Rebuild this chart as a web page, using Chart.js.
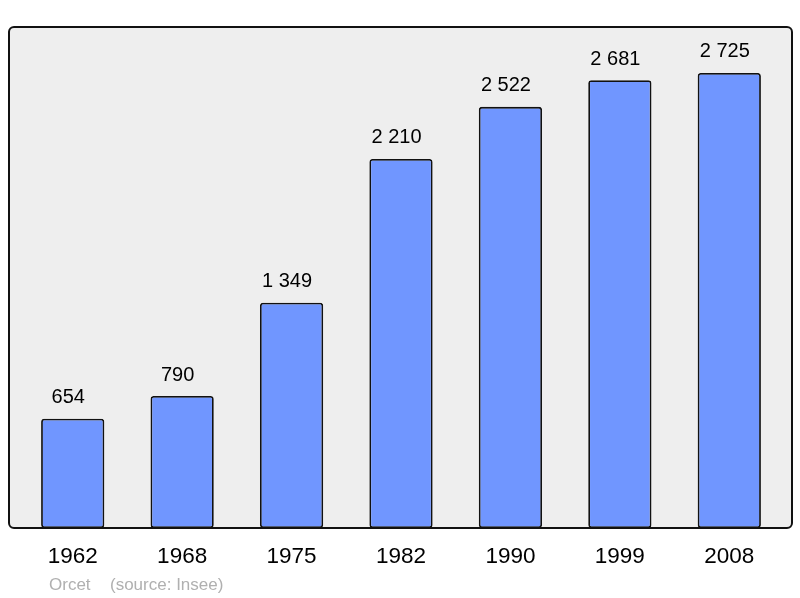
<!DOCTYPE html>
<html>
<head>
<meta charset="utf-8">
<script src="https://cdn.jsdelivr.net/npm/chart.js@4"></script>
<style>
  html, body { margin: 0; padding: 0; background: #fff; }
  #wrap { width: 800px; height: 598px; }
</style>
</head>
<body>
<div id="wrap"><canvas id="chart"></canvas></div>
<script>
const years = ["1962", "1968", "1975", "1982", "1990", "1999", "2008"];
const population = [654, 790, 1349, 2210, 2522, 2681, 2725];
const footerText = ["Orcet", "(source: Insee)"];

const fmt = (v) => String(v).replace(/\B(?=(\d{3})+(?!\d))/g, " ");

// grey panel with dark border around the plot
const panel = {
    id: "panel",
    beforeDatasetsDraw(chart) {
        const { ctx, chartArea: a } = chart;
        ctx.save();
        ctx.fillStyle = "#eeeeee";
        ctx.beginPath();
        ctx.roundRect(a.left - 9, a.top, a.width + 17, a.height, 5);
        ctx.fill();
        ctx.restore();
    },
    afterDatasetsDraw(chart) {
        const { ctx, chartArea: a } = chart;
        ctx.save();
        ctx.strokeStyle = "#111";
        ctx.lineWidth = 2;
        ctx.beginPath();
        ctx.roundRect(a.left - 9, a.top, a.width + 17, a.height, 5);
        ctx.stroke();

        // value labels above bars (sit a little left of centre, as in the original)
        const meta = chart.getDatasetMeta(0);
        ctx.fillStyle = "#000";
        ctx.font = "20px 'Liberation Sans', Arial, sans-serif";
        ctx.textAlign = "center";
        ctx.textBaseline = "middle";
        meta.data.forEach((bar, i) => {
            ctx.fillText(fmt(population[i]), bar.x - 4.5, bar.y - 21);
        });

        // footer
        ctx.fillStyle = "#b0b0b0";
        ctx.font = "17px 'Liberation Sans', Arial, sans-serif";
        ctx.textAlign = "left";
        ctx.fillText(footerText[0], 49, 585);
        ctx.fillText(footerText[1], 110, 585);
        ctx.restore();
    },
};

new Chart(document.getElementById("chart"), {
    type: "bar",
    data: {
        labels: years,
        datasets: [
            {
                data: population,
                backgroundColor: "#7096ff",
                borderColor: "#111",
                borderWidth: 1.8,
                borderSkipped: false,
                borderRadius: 3,
                categoryPercentage: 1,
                barPercentage: 0.578,
            },
        ],
    },
    options: {
        responsive: true,
        maintainAspectRatio: false,
        animation: false,
        layout: {
            padding: { left: 18, right: 16, top: 27, bottom: 13 },
        },
        plugins: {
            legend: { display: false },
            tooltip: { enabled: false },
        },
        scales: {
            y: {
                display: false,
                min: 0,
                max: 3000,
            },
            x: {
                grid: { display: false, drawTicks: false },
                border: { display: false },
                ticks: {
                    color: "#000",
                    padding: 15,
                    font: { size: 22.5, family: "'Liberation Sans', Arial, sans-serif" },
                },
            },
        },
    },
    plugins: [panel],
});
</script>
</body>
</html>
